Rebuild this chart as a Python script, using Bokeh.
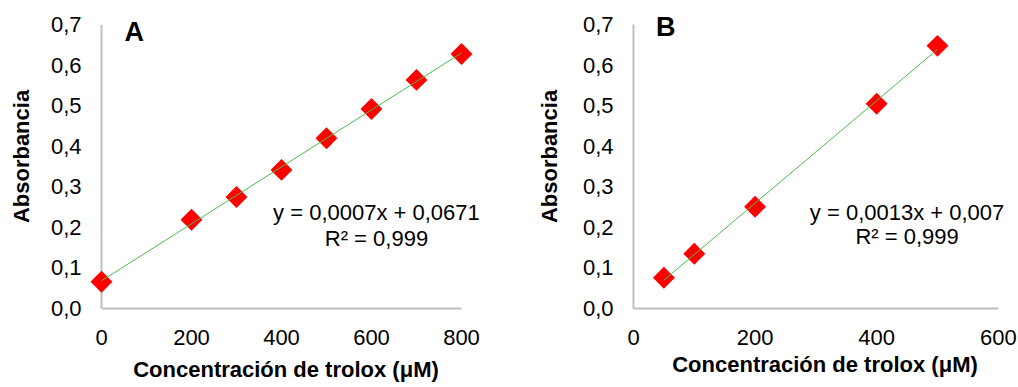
import numpy as np
from bokeh.plotting import figure
from bokeh.layouts import row
from bokeh.models import Range1d, FixedTicker, Label
from bokeh.embed import file_html
from bokeh.resources import INLINE

# ---- data ----
a_conc = [0, 200, 300, 400, 500, 600, 700, 800]
a_abs = [0.066, 0.219, 0.275, 0.342, 0.420, 0.492, 0.564, 0.628]
b_conc = [50, 100, 200, 400, 500]
b_abs = [0.076, 0.135, 0.251, 0.505, 0.648]

y_ticks = [0.0, 0.1, 0.2, 0.3, 0.4, 0.5, 0.6, 0.7]
y_tick_labels = ["0,0", "0,1", "0,2", "0,3", "0,4", "0,5", "0,6", "0,7"]
a_x_ticks = [0, 200, 400, 600, 800]
b_x_ticks = [0, 200, 400, 600]

a_eq = "y = 0,0007x + 0,0671"
b_eq = "y = 0,0013x + 0,007"
r2_text = "R² = 0,999"
x_title = "Concentración de trolox (μM)"
y_title = "Absorbancia"

FONT = "Liberation Sans"
AXIS_COL = "#bfbfbf"
LINE_COL = "#4cbb4c"
Y_TOP = 0.75


def make_panel(xs, ys, x_ticks, x_range, width, borders, stand, own_yaxis,
               letter, letter_pos, eq, eq_pos, r2_y):
    lb, rb, tb, bb = borders
    ytick_so, ylab_so, xtick_so, xlab_so = stand
    p = figure(width=width, height=387, output_backend="svg", toolbar_location=None,
               x_range=Range1d(*x_range), y_range=Range1d(0, Y_TOP),
               min_border_left=lb, min_border_right=rb, min_border_top=tb, min_border_bottom=bb)
    p.outline_line_color = None
    p.grid.visible = False

    for ax in (p.xaxis[0], p.yaxis[0]):
        ax.axis_line_color = AXIS_COL
        ax.axis_line_width = 2
        ax.major_tick_line_color = None
        ax.minor_tick_line_color = None
        ax.major_tick_out = 0
        ax.major_tick_in = 0
        ax.minor_tick_out = 0
        ax.minor_tick_in = 0
        ax.major_label_text_font = FONT
        ax.major_label_text_font_size = "22px"
        ax.major_label_text_color = "#000000"
        ax.axis_label_text_font = FONT
        ax.axis_label_text_font_size = "22px"
        ax.axis_label_text_font_style = "bold"
        ax.axis_label_text_color = "#000000"

    p.xaxis.ticker = FixedTicker(ticks=x_ticks)
    p.xaxis.bounds = (x_ticks[0], x_ticks[-1])
    p.xaxis.major_label_standoff = xtick_so
    p.xaxis.axis_label = x_title
    p.xaxis.axis_label_standoff = xlab_so

    p.yaxis.ticker = FixedTicker(ticks=y_ticks)
    p.yaxis.bounds = (y_ticks[0], y_ticks[-1])
    p.yaxis.major_label_overrides = {t: l for t, l in zip(y_ticks, y_tick_labels)}
    p.yaxis.major_label_standoff = ytick_so
    p.yaxis.axis_label = y_title
    p.yaxis.axis_label_standoff = ylab_so

    if own_yaxis:
        # y axis line drawn at x = 0 (frame is padded so edge markers are not cut)
        p.yaxis.axis_line_color = None
        p.segment(x0=[x_ticks[0]], y0=[y_ticks[0]], x1=[x_ticks[0]], y1=[y_ticks[-1]],
                  line_color=AXIS_COL, line_width=2)

    p.scatter(xs, ys, marker="square", size=15.5, angle=np.pi / 4,
              fill_color="#ff0000", line_color=None)

    slope, intercept = np.polyfit(xs, ys, 1)
    x0, x1 = min(xs), max(xs)
    p.line([x0, x1], [slope * x0 + intercept, slope * x1 + intercept],
           line_color=LINE_COL, line_width=1)

    p.add_layout(Label(x=letter_pos[0], y=letter_pos[1], text=letter,
                       text_font=FONT, text_font_size="27px", text_font_style="bold",
                       text_color="#000000", text_baseline="middle"))
    p.add_layout(Label(x=eq_pos[0], y=eq_pos[1], text=eq, text_align="center",
                       text_baseline="middle", text_font=FONT, text_font_size="22px",
                       text_color="#000000"))
    p.add_layout(Label(x=eq_pos[0], y=r2_y, text=r2_text, text_align="center",
                       text_baseline="middle", text_font=FONT, text_font_size="22px",
                       text_color="#000000"))
    return p


pa = make_panel(a_conc, a_abs, a_x_ticks, (-40, 860), 509, (83, 21, 4, 79),
                (2, 14, 21, 9), True,
                "A", (51, 0.682), a_eq, (611, 0.237), 0.1727)
pb = make_panel(b_conc, b_abs, b_x_ticks, (0, 630), 509, (124, 2, 4, 74),
                (20, 18, 21, 4), False,
                "B", (37, 0.695), b_eq, (450, 0.238), 0.1772)

layout = row(pa, pb)
open("out.html", "w").write(file_html(layout, INLINE))
